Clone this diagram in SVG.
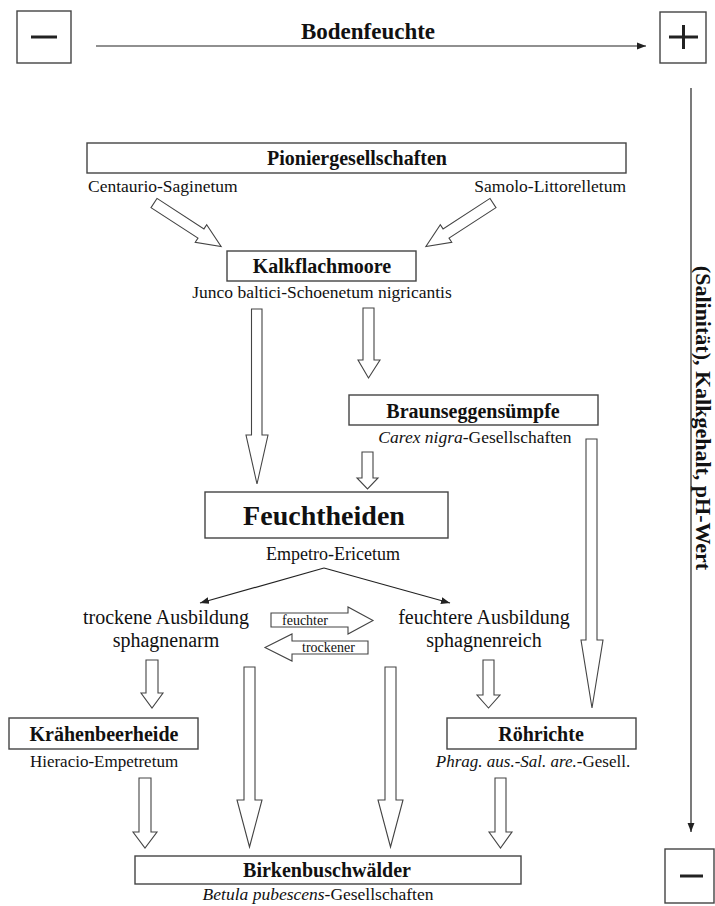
<svg xmlns="http://www.w3.org/2000/svg" width="715" height="906" viewBox="0 0 715 906">
<defs>
<marker id="ah" viewBox="0 0 10 10" refX="10" refY="5" markerWidth="9" markerHeight="9" markerUnits="userSpaceOnUse" orient="auto"><path d="M0,1.2 L10,5 L0,8.8 z" fill="#222"/></marker>
</defs>
<style>
text{font-family:"Liberation Serif","Times New Roman",serif;fill:#111}
.b{font-weight:bold}
.c{text-anchor:middle}
.box{fill:#fff;stroke:#444;stroke-width:1.4}
.blk{fill:#fff;stroke:#444;stroke-width:1.1}
.ln{stroke:#222;stroke-width:1.2;fill:none}
.sign{stroke:#222;stroke-width:3;fill:none}
.n{font-size:20px}
.s{font-size:17.5px}
.m{font-size:20px}
</style>
<rect width="715" height="906" fill="#fff"/>

<g id="minus-top"><rect class="box" x="17" y="11" width="54" height="52"/><line class="sign" x1="31" y1="37" x2="57" y2="37"/></g>
<g id="plus-top"><rect class="box" x="660" y="12" width="46" height="51"/><line class="sign" x1="669" y1="37" x2="698" y2="37" stroke-width="2.5"/><line class="sign" x1="683.5" y1="25" x2="683.5" y2="49" stroke-width="2.5"/></g>
<g id="bodenfeuchte"><text class="b c" x="368" y="39" font-size="23">Bodenfeuchte</text></g>
<g id="minus-bottom"><rect class="box" x="665" y="849" width="49" height="54"/><line class="sign" x1="680" y1="876" x2="703" y2="876"/></g>
<g id="axis-label"><text class="b c" font-size="22" transform="translate(696,418) rotate(90)">(Salinität), Kalkgehalt, pH-Wert</text></g>

<g id="pioniergesellschaften">
<rect class="box" x="87" y="143" width="539" height="30"/>
<text class="b c n" x="357" y="165">Pioniergesellschaften</text>
<text class="s" x="88" y="192">Centaurio-Saginetum</text>
<text class="s" x="626" y="192" text-anchor="end">Samolo-Littorelletum</text>
</g>
<g id="kalkflachmoore">
<rect class="box" x="227" y="251" width="189" height="30"/>
<text class="b c n" x="322" y="273">Kalkflachmoore</text>
<text class="c s" x="322" y="298">Junco baltici-Schoenetum nigricantis</text>
</g>
<g id="braunseggensuempfe">
<rect class="box" x="349" y="395" width="249" height="30"/>
<text class="b c n" x="473" y="418">Braunseggensümpfe</text>
<text class="c s" x="475" y="443"><tspan font-style="italic">Carex nigra</tspan>-Gesellschaften</text>
</g>
<g id="feuchtheiden">
<rect class="box" x="205" y="492" width="243" height="46"/>
<text class="b c" x="324" y="525" font-size="28">Feuchtheiden</text>
<text class="c" x="333" y="560" font-size="18">Empetro-Ericetum</text>
</g>
<g id="trockene-ausbildung">
<text class="c m" x="166" y="624">trockene Ausbildung</text>
<text class="c m" x="166" y="647">sphagnenarm</text>
</g>
<g id="feuchtere-ausbildung">
<text class="c m" x="484" y="624">feuchtere Ausbildung</text>
<text class="c m" x="484" y="647">sphagnenreich</text>
</g>
<g id="kraehenbeerheide">
<rect class="box" x="9" y="718" width="189" height="31"/>
<text class="b c n" x="104" y="741">Krähenbeerheide</text>
<text class="c" x="104" y="767" font-size="17">Hieracio-Empetretum</text>
</g>
<g id="roehrichte">
<rect class="box" x="447" y="718" width="189" height="31"/>
<text class="b c n" x="541" y="741">Röhrichte</text>
<text class="c" x="533" y="767" font-size="17"><tspan font-style="italic">Phrag. aus.-Sal. are.</tspan>-Gesell.</text>
</g>
<g id="birkenbuschwaelder">
<rect class="box" x="135" y="856" width="386" height="28"/>
<text class="b c n" x="327" y="877">Birkenbuschwälder</text>
<text class="c s" x="318" y="900"><tspan font-style="italic">Betula pubescens</tspan>-Gesellschaften</text>
</g>

<g id="connectors">
<line class="ln" x1="96" y1="46" x2="646" y2="46" marker-end="url(#ah)"/>
<line class="ln" x1="691" y1="88" x2="691" y2="832" marker-end="url(#ah)"/>
<line class="ln" x1="324" y1="568" x2="200" y2="603" marker-end="url(#ah)"/>
<line class="ln" x1="324" y1="568" x2="450" y2="603" marker-end="url(#ah)"/>

<polygon class="blk" transform="translate(154,203) rotate(33)" points="0,-5.5 56,-5.5 56,-10.5 80,0 56,10.5 56,5.5 0,5.5"/>
<polygon class="blk" transform="translate(493,203) rotate(147)" points="0,-5.5 56,-5.5 56,-10.5 80,0 56,10.5 56,5.5 0,5.5"/>

<polygon class="blk" points="251.5,309 262,309 262,435 268,435 257,484 246,435 251.5,435"/>
<polygon class="blk" points="363,308 374,308 374,360 380,360 368.5,378 358,360 363,360"/>
<polygon class="blk" points="362,452 373,452 373,478 378,478 367.5,489 357,478 362,478"/>
<polygon class="blk" points="586,439 597,439 597,640 603,640 592,708 581,640 586,640"/>

<polygon class="blk" points="146,660 158,660 158,693 163,693 152,708 141,693 146,693"/>
<polygon class="blk" points="483,660 494,660 494,695 500,695 488.5,708 477,695 483,695"/>
<polygon class="blk" points="244,667 255,667 255,800 262,800 249.5,847 237,800 244,800"/>
<polygon class="blk" points="385,667 396,667 396,800 403,800 390.5,847 378,800 385,800"/>
<polygon class="blk" points="139,778 151,778 151,832 157,832 145,848 133,832 139,832"/>
<polygon class="blk" points="495,778 506,778 506,832 512,832 500.5,848 489,832 495,832"/>

<polygon class="blk" points="271,613 348,613 348,607 373,620.5 348,634 348,627 271,627"/>
<text x="282" y="625" font-size="14">feuchter</text>
<polygon class="blk" points="368,641 292,641 292,634 265,647.5 292,661 292,654 368,654"/>
<text x="302" y="652" font-size="14">trockener</text>
</g>
</svg>
